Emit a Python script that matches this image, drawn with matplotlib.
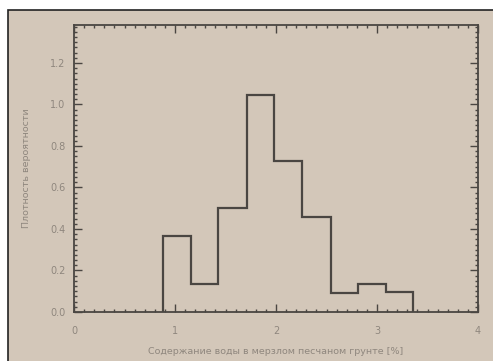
import matplotlib.pyplot as plt
from matplotlib.patches import Rectangle
from matplotlib.ticker import MultipleLocator

# histogram bin edges (water content, %) and probability density
edges = [0.88, 1.16, 1.43, 1.71, 1.98, 2.26, 2.54, 2.81, 3.09, 3.36]
density = [0.364, 0.136, 0.50, 1.047, 0.726, 0.458, 0.092, 0.136, 0.094]

xticks = [0, 1, 2, 3, 4]
yticks = [0.0, 0.2, 0.4, 0.6, 0.8, 1.0, 1.2]
xlabel = "Содержание воды в мерзлом песчаном грунте [%]"
ylabel = "Плотность вероятности"

bg = "#d3c7b9"
txt = "#8f877e"
ink = "#4a4642"

fig = plt.figure(figsize=(4.93, 3.61), dpi=100, facecolor="white")
fig.patches.append(Rectangle((8 / 493, -0.05), 1, 1.05 - 10 / 361, transform=fig.transFigure,
                             facecolor=bg, edgecolor="#222222", linewidth=1.2, zorder=-1))

ax = fig.add_axes([74 / 493, 1 - 312 / 361, (478 - 74) / 493, (312 - 25) / 361])
ax.set_zorder(1)
ax.set_facecolor(bg)
ax.stairs(density, edges, color=ink, linewidth=1.6)

ax.set_xlim(0, 4)
ax.set_ylim(0, 1.383)
ax.set_xticks(xticks)
ax.set_yticks(yticks)
ax.set_xticklabels([str(t) for t in xticks])
ax.set_yticklabels([f"{t:.1f}" for t in yticks])
ax.xaxis.set_minor_locator(MultipleLocator(0.1))
ax.yaxis.set_minor_locator(MultipleLocator(0.025))
ax.tick_params(which="both", direction="in", top=True, right=True, color=ink,
               labelcolor=txt, labelsize=7, width=1)
ax.tick_params(which="major", length=6, pad=6)
ax.tick_params(axis="x", which="major", pad=10)
ax.tick_params(which="minor", length=2.5)
for s in ax.spines.values():
    s.set_color(ink)
    s.set_linewidth(1.3)

ax.set_xlabel(xlabel, color=txt, fontsize=6.8, labelpad=8)
ax.set_ylabel(ylabel, color=txt, fontsize=6.8, labelpad=14)

fig.savefig("out.png", dpi=100, facecolor="white")
